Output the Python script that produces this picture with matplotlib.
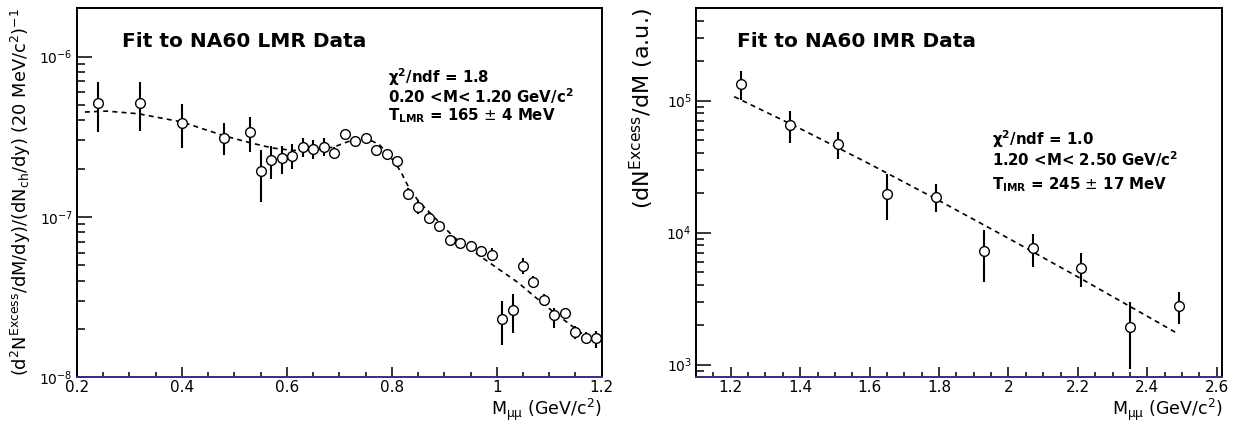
import numpy as np
import matplotlib
matplotlib.use("Agg")
import matplotlib.pyplot as plt
from matplotlib.ticker import LogLocator, MultipleLocator, FuncFormatter, NullFormatter

plt.rcParams["font.family"] = ["DejaVu Sans"]
plt.rcParams["mathtext.fontset"] = "dejavusans"

# ---------------- LMR excess spectrum (0.2 - 1.2 GeV) ----------------
m_lmr = [0.24, 0.32, 0.40, 0.48, 0.53, 0.55, 0.57, 0.59, 0.61, 0.63,
         0.65, 0.67, 0.69, 0.71, 0.73, 0.75, 0.77, 0.79, 0.81, 0.83,
         0.85, 0.87, 0.89, 0.91, 0.93, 0.95, 0.97, 0.99, 1.01, 1.03,
         1.05, 1.07, 1.09, 1.11, 1.13, 1.15, 1.17, 1.19]
y_lmr = [5.16e-7, 5.16e-7, 3.87e-7, 3.12e-7, 3.40e-7, 1.94e-7, 2.27e-7, 2.34e-7, 2.40e-7, 2.73e-7,
         2.66e-7, 2.73e-7, 2.52e-7, 3.31e-7, 2.98e-7, 3.11e-7, 2.60e-7, 2.47e-7, 2.22e-7, 1.40e-7,
         1.15e-7, 9.9e-8, 8.73e-8, 7.23e-8, 6.90e-8, 6.55e-8, 6.09e-8, 5.82e-8, 2.30e-8, 2.62e-8,
         4.97e-8, 3.91e-8, 3.05e-8, 2.43e-8, 2.51e-8, 1.92e-8, 1.76e-8, 1.76e-8]
err_hi_lmr = [1.80e-7, 1.80e-7, 1.17e-7, 0.71e-7, 0.82e-7, 0.69e-7, 0.51e-7, 0.44e-7, 0.43e-7, 0.38e-7,
              0.38e-7, 0.38e-7, 0.21e-7, 0.18e-7, 0.17e-7, 0.17e-7, 0.15e-7, 0.15e-7, 0.14e-7, 0.11e-7,
              0.10e-7, 0.8e-8, 0.7e-8, 0.5e-8, 0.5e-8, 0.5e-8, 0.5e-8, 0.59e-8, 0.69e-8, 0.71e-8,
              0.59e-8, 0.35e-8, 0.28e-8, 0.29e-8, 0.18e-8, 0.16e-8, 0.16e-8, 0.18e-8]
err_lo_lmr = [1.75e-7, 1.71e-7, 1.18e-7, 0.70e-7, 0.87e-7, 0.70e-7, 0.54e-7, 0.48e-7, 0.41e-7, 0.37e-7,
              0.35e-7, 0.32e-7, 0.22e-7, 0.18e-7, 0.17e-7, 0.17e-7, 0.15e-7, 0.15e-7, 0.14e-7, 0.11e-7,
              0.10e-7, 0.8e-8, 0.7e-8, 0.5e-8, 0.5e-8, 0.5e-8, 0.5e-8, 0.53e-8, 0.72e-8, 0.73e-8,
              0.56e-8, 0.33e-8, 0.26e-8, 0.39e-8, 0.18e-8, 0.18e-8, 0.15e-8, 0.24e-8]

# thermal fit curve, LMR
fit_m_lmr = [0.215, 0.256, 0.317, 0.40, 0.48, 0.53, 0.573, 0.611, 0.65, 0.69,
             0.71, 0.73, 0.75, 0.776, 0.785, 0.804, 0.817, 0.833, 0.852, 0.874,
             0.893, 0.918, 0.944, 0.976, 1.008, 1.04, 1.071, 1.102, 1.135, 1.165, 1.195]
fit_y_lmr = [4.51e-7, 4.57e-7, 4.40e-7, 3.91e-7, 3.21e-7, 2.90e-7, 2.69e-7, 2.60e-7, 2.60e-7, 2.73e-7,
             2.90e-7, 3.04e-7, 3.11e-7, 2.83e-7, 2.63e-7, 2.22e-7, 1.92e-7, 1.51e-7, 1.24e-7, 1.05e-7,
             9.08e-8, 7.50e-8, 6.47e-8, 5.47e-8, 4.62e-8, 3.91e-8, 3.21e-8, 2.65e-8, 2.19e-8, 1.85e-8, 1.64e-8]

# ---------------- IMR excess spectrum (1.2 - 2.5 GeV) ----------------
m_imr = [1.23, 1.37, 1.51, 1.65, 1.79, 1.93, 2.07, 2.21, 2.35, 2.49]
y_imr = [1.34e5, 6.5e4, 4.7e4, 1.97e4, 1.87e4, 7.3e3, 7.6e3, 5.43e3, 1.94e3, 2.78e3]
err_hi_imr = [3.3e4, 1.8e4, 1.12e4, 8.1e3, 4.5e3, 3.2e3, 2.2e3, 1.54e3, 1.05e3, 7.5e2]
err_lo_imr = [3.3e4, 1.75e4, 1.1e4, 7.2e3, 4.5e3, 3.1e3, 2.1e3, 1.53e3, 1.02e3, 7.5e2]

fit_m_imr = [1.21, 1.40, 1.60, 1.80, 2.00, 2.20, 2.40, 2.49]
fit_y_imr = [1.07e5, 6.13e4, 3.31e4, 1.745e4, 9.04e3, 4.61e3, 2.32e3, 1.70e3]

W, H = 1238, 429
fig = plt.figure(figsize=(W / 100, H / 100), dpi=100)

def px_axes(x0, x1, ytop, ybot):
    return fig.add_axes([x0 / W, 1 - ybot / H, (x1 - x0) / W, (ybot - ytop) / H])

ax1 = px_axes(77, 601.7, 8.3, 377.3)
ax2 = px_axes(696, 1222.3, 8.3, 377.3)

def sci_label(v, pos):
    e = int(round(np.log10(v)))
    return r"$\mathdefault{10^{%d}}$" % e

def x_label(v, pos):
    s = "%.1f" % v
    if s.endswith(".0"):
        s = s[:-2]
    return s

def style(ax, xmajor):
    ax.set_yscale("log")
    ax.xaxis.set_major_locator(MultipleLocator(xmajor))
    ax.xaxis.set_minor_locator(MultipleLocator(0.05))
    ax.xaxis.set_major_formatter(FuncFormatter(x_label))
    ax.yaxis.set_major_locator(LogLocator(base=10, numticks=20))
    ax.yaxis.set_minor_locator(LogLocator(base=10, subs=np.arange(2, 10), numticks=20))
    ax.yaxis.set_major_formatter(FuncFormatter(sci_label))
    ax.yaxis.set_minor_formatter(NullFormatter())
    ax.tick_params(axis="both", which="both", direction="in", top=False, right=False,
                   width=1.1, colors="black")
    ax.tick_params(axis="y", which="major", length=10.8, pad=3.0, labelsize=10)
    ax.tick_params(axis="y", which="minor", length=5.8)
    ax.tick_params(axis="x", which="major", length=7.2, pad=2.0, labelsize=11)
    ax.tick_params(axis="x", which="minor", length=3.6)
    for s in ["top", "right", "left"]:
        ax.spines[s].set_linewidth(1.4)
        ax.spines[s].set_color("black")
    ax.spines["bottom"].set_linewidth(1.4)
    ax.spines["bottom"].set_color("#2f2f8f")

def draw(ax, m, y, elo, ehi, fm, fy):
    ax.plot(fm, fy, color="black", lw=1.2, ls=(0, (3, 2.5)), zorder=2)
    ax.errorbar(m, y, yerr=[elo, ehi], fmt="o", ms=7.0, mfc="white", mec="black",
                mew=1.0, ecolor="black", elinewidth=1.5, capsize=0, zorder=3)

# ---- left panel ----
draw(ax1, m_lmr, y_lmr, err_lo_lmr, err_hi_lmr, fit_m_lmr, fit_y_lmr)
style(ax1, 0.2)
ax1.set_xlim(0.2, 1.2)
ax1.set_ylim(1e-8, 2e-6)

ax1.text(0.085, 0.894, "Fit to NA60 LMR Data", transform=ax1.transAxes,
         fontsize=14.5, fontweight="bold", ha="left", va="baseline")
stat_kw = dict(fontsize=10.8, fontweight="bold", ha="left", va="baseline")
ax1.text(0.593, 0.797, r"χ$^{\mathbf{2}}$/ndf = 1.8", transform=ax1.transAxes, **stat_kw)
ax1.text(0.593, 0.744, r"0.20 <M< 1.20 GeV/c$^{\mathbf{2}}$", transform=ax1.transAxes, **stat_kw)
ax1.text(0.593, 0.697, r"T$_{\mathbf{LMR}}$ = 165 $\pm$ 4 MeV", transform=ax1.transAxes, **stat_kw)

ax1.set_xlabel(r"M$_{\mathrm{μμ}}$ (GeV/c$^{2}$)", fontsize=12.5, loc="right")
ax1.xaxis.label.set_verticalalignment("baseline")
ax1.xaxis.set_label_coords(1.0, -0.102)
ax1.set_ylabel(r"(d$^{2}$N$^{\mathrm{Excess}}$/dM/dy)/(dN$_{\mathrm{ch}}$/dy) (20 MeV/c$^{2}$)$^{-1}$",
               fontsize=12.8, loc="top")
ax1.yaxis.set_label_coords(-0.083, 1.0)

# ---- right panel ----
draw(ax2, m_imr, y_imr, err_lo_imr, err_hi_imr, fit_m_imr, fit_y_imr)
style(ax2, 0.2)
ax2.set_xlim(1.1, 2.616)
ax2.set_ylim(800, 5e5)

ax2.text(0.0787, 0.894, "Fit to NA60 IMR Data", transform=ax2.transAxes,
         fontsize=14.5, fontweight="bold", ha="left", va="baseline")
ax2.text(0.5624, 0.6295, r"χ$^{\mathbf{2}}$/ndf = 1.0", transform=ax2.transAxes, **stat_kw)
ax2.text(0.5624, 0.5734, r"1.20 <M< 2.50 GeV/c$^{\mathbf{2}}$", transform=ax2.transAxes, **stat_kw)
ax2.text(0.5624, 0.5095, r"T$_{\mathbf{IMR}}$ = 245 $\pm$ 17 MeV", transform=ax2.transAxes, **stat_kw)

ax2.set_xlabel(r"M$_{\mathrm{μμ}}$ (GeV/c$^{2}$)", fontsize=12.5, loc="right")
ax2.xaxis.label.set_verticalalignment("baseline")
ax2.xaxis.set_label_coords(1.0, -0.102)
ax2.set_ylabel(r"(dN$^{\mathrm{Excess}}$/dM (a.u.)", fontsize=16, loc="top")
ax2.yaxis.set_label_coords(-0.076, 1.0)

fig.savefig("out.png", dpi=100)
